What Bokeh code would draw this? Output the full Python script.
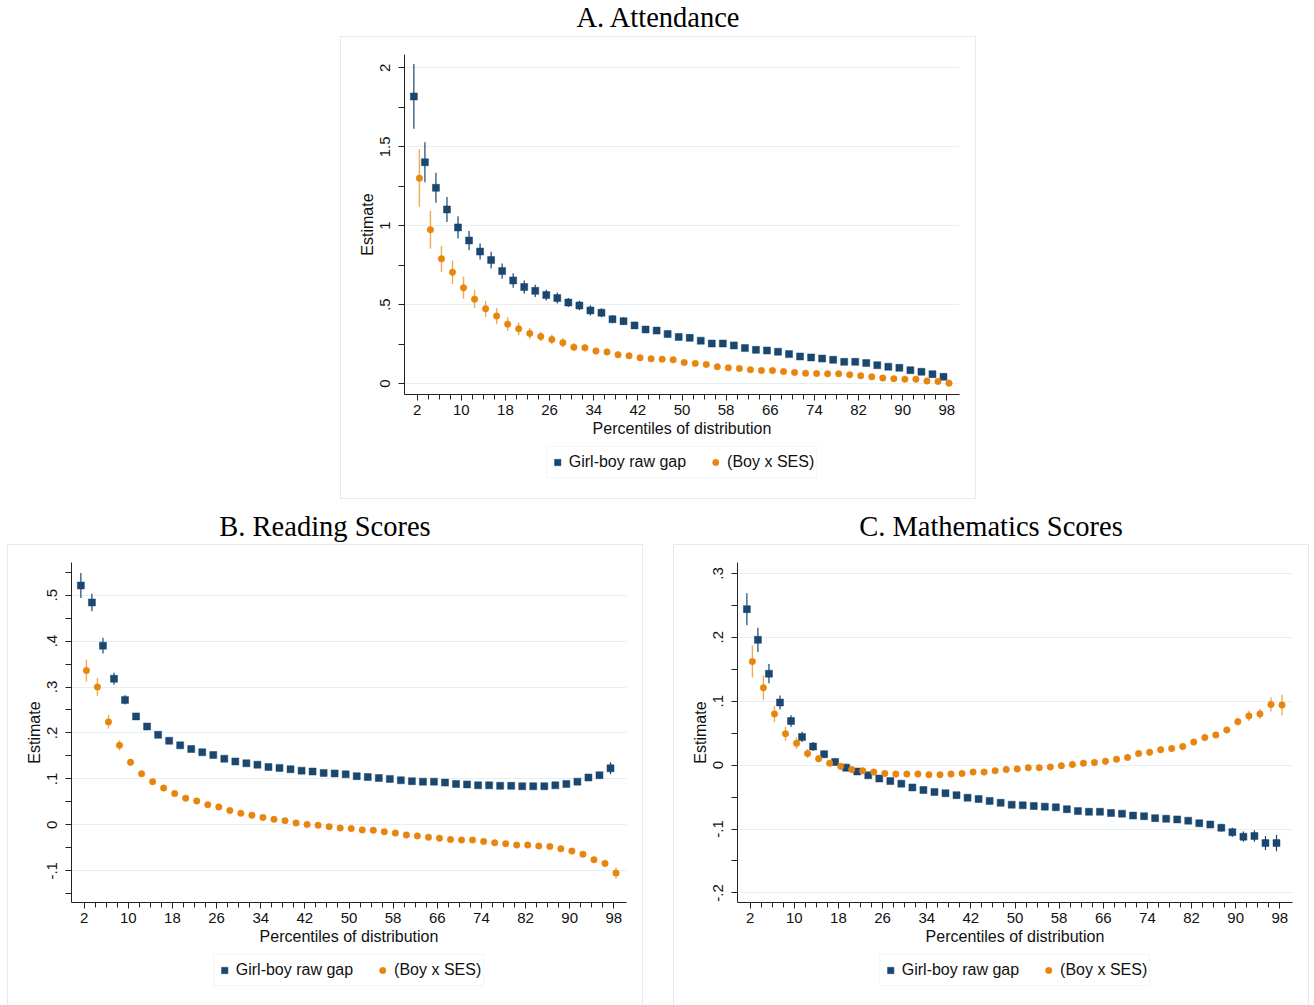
from bokeh.plotting import figure
from bokeh.layouts import column, row
from bokeh.models import (ColumnDataSource, FixedTicker, CustomJSTickFormatter,
                          Legend, LegendItem, Range1d, Div, Spacer)
from bokeh.embed import file_html
from bokeh.resources import INLINE

# percentiles of the distribution (x) and labelled ticks
percentiles = list(range(2, 99, 2))
x_labels = [2, 10, 18, 26, 34, 42, 50, 58, 66, 74, 82, 90, 98]

# A. Attendance
att_gap = [1.819, 1.402, 1.240, 1.103, 0.989, 0.906, 0.836, 0.782, 0.712, 0.653,
           0.611, 0.587, 0.560, 0.541, 0.513, 0.494, 0.463, 0.448, 0.407, 0.395,
           0.368, 0.342, 0.335, 0.313, 0.295, 0.289, 0.271, 0.253, 0.253, 0.241,
           0.224, 0.213, 0.209, 0.201, 0.186, 0.171, 0.165, 0.158, 0.150, 0.137,
           0.137, 0.129, 0.116, 0.106, 0.099, 0.084, 0.074, 0.059, 0.042]
att_gap_ci = [0.205, 0.127, 0.095, 0.079, 0.071, 0.061, 0.051, 0.053, 0.049, 0.046,
              0.042, 0.039, 0.034, 0.035, 0.028, 0.030, 0.032, 0.028, 0.025, 0.024,
              0.023, 0.022, 0.022, 0.021, 0.020, 0.020, 0.019, 0.019, 0.018, 0.018,
              0.017, 0.017, 0.017, 0.016, 0.016, 0.016, 0.015, 0.015, 0.015, 0.015,
              0.014, 0.014, 0.014, 0.014, 0.014, 0.014, 0.014, 0.013, 0.013]
att_ses = [1.301, 0.974, 0.790, 0.705, 0.606, 0.534, 0.473, 0.427, 0.376, 0.346,
           0.317, 0.298, 0.279, 0.258, 0.230, 0.226, 0.205, 0.200, 0.182, 0.175,
           0.163, 0.156, 0.154, 0.150, 0.133, 0.127, 0.120, 0.106, 0.099, 0.095,
           0.087, 0.082, 0.082, 0.076, 0.070, 0.065, 0.063, 0.061, 0.061, 0.055,
           0.049, 0.042, 0.034, 0.030, 0.027, 0.027, 0.015, 0.013, 0.002]
att_ses_ci = [0.183, 0.120, 0.083, 0.075, 0.070, 0.058, 0.051, 0.052, 0.043, 0.040,
              0.035, 0.030, 0.030, 0.028, 0.025, 0.024, 0.022, 0.021, 0.020, 0.019,
              0.018, 0.018, 0.017, 0.017, 0.016, 0.016, 0.015, 0.015, 0.015, 0.014,
              0.014, 0.014, 0.013, 0.013, 0.013, 0.013, 0.012, 0.012, 0.012, 0.012,
              0.012, 0.012, 0.012, 0.012, 0.012, 0.012, 0.012, 0.012, 0.013]
att_yticks = [0, 0.5, 1, 1.5, 2]
att_yminor = [0.25, 0.75, 1.25, 1.75]

# B. Reading Scores
read_gap = [0.521, 0.484, 0.390, 0.318, 0.272, 0.236, 0.214, 0.196, 0.183, 0.173,
            0.165, 0.158, 0.152, 0.144, 0.138, 0.134, 0.131, 0.126, 0.124, 0.121,
            0.118, 0.116, 0.113, 0.112, 0.110, 0.106, 0.104, 0.102, 0.100, 0.097,
            0.095, 0.094, 0.094, 0.092, 0.089, 0.088, 0.086, 0.086, 0.085, 0.085,
            0.084, 0.084, 0.084, 0.086, 0.089, 0.094, 0.103, 0.108, 0.123]
read_gap_ci = [0.027, 0.019, 0.017, 0.013, 0.010, 0.007, 0.006, 0.005, 0.005, 0.005,
               0.004, 0.004, 0.004, 0.004, 0.004, 0.004, 0.004, 0.004, 0.004, 0.004,
               0.004, 0.004, 0.004, 0.004, 0.004, 0.004, 0.004, 0.004, 0.004, 0.004,
               0.004, 0.004, 0.004, 0.004, 0.004, 0.004, 0.004, 0.004, 0.004, 0.004,
               0.004, 0.004, 0.004, 0.005, 0.005, 0.005, 0.006, 0.007, 0.013]
read_ses = [0.336, 0.300, 0.224, 0.173, 0.136, 0.111, 0.094, 0.080, 0.068, 0.058,
            0.052, 0.044, 0.039, 0.031, 0.025, 0.021, 0.016, 0.012, 0.009, 0.004,
            0.001, -0.001, -0.004, -0.007, -0.008, -0.011, -0.012, -0.015, -0.018, -0.022,
            -0.024, -0.027, -0.029, -0.032, -0.033, -0.033, -0.036, -0.039, -0.041, -0.044,
            -0.044, -0.046, -0.047, -0.052, -0.057, -0.064, -0.076, -0.084, -0.105]
read_ses_ci = [0.024, 0.020, 0.015, 0.011, 0.008, 0.006, 0.005, 0.005, 0.004, 0.004,
               0.004, 0.004, 0.004, 0.004, 0.004, 0.004, 0.004, 0.004, 0.004, 0.004,
               0.004, 0.004, 0.004, 0.004, 0.004, 0.004, 0.004, 0.004, 0.004, 0.004,
               0.004, 0.004, 0.004, 0.004, 0.004, 0.004, 0.004, 0.004, 0.004, 0.004,
               0.004, 0.004, 0.004, 0.005, 0.005, 0.005, 0.007, 0.008, 0.012]
read_yticks = [-0.1, 0, 0.1, 0.2, 0.3, 0.4, 0.5]
read_yminor = [-0.15, -0.05, 0.05, 0.15, 0.25, 0.35, 0.45, 0.55]

# C. Mathematics Scores
math_gap = [0.244, 0.196, 0.143, 0.098, 0.069, 0.044, 0.029, 0.017, 0.005, -0.004,
            -0.010, -0.016, -0.021, -0.025, -0.029, -0.035, -0.039, -0.042, -0.044, -0.047,
            -0.051, -0.053, -0.056, -0.059, -0.062, -0.063, -0.064, -0.065, -0.066, -0.069,
            -0.072, -0.073, -0.073, -0.075, -0.076, -0.079, -0.080, -0.083, -0.084, -0.085,
            -0.087, -0.091, -0.093, -0.098, -0.105, -0.112, -0.111, -0.122, -0.122]
math_gap_ci = [0.025, 0.019, 0.015, 0.011, 0.009, 0.008, 0.007, 0.006, 0.006, 0.006,
               0.005, 0.005, 0.005, 0.005, 0.005, 0.005, 0.005, 0.005, 0.005, 0.005,
               0.005, 0.005, 0.005, 0.005, 0.005, 0.005, 0.005, 0.005, 0.005, 0.005,
               0.005, 0.005, 0.005, 0.005, 0.005, 0.005, 0.005, 0.005, 0.005, 0.005,
               0.005, 0.005, 0.005, 0.006, 0.007, 0.008, 0.009, 0.011, 0.013]
math_ses = [0.162, 0.121, 0.080, 0.049, 0.034, 0.018, 0.010, 0.003, -0.002, -0.007,
            -0.009, -0.011, -0.013, -0.014, -0.014, -0.014, -0.015, -0.015, -0.014, -0.013,
            -0.011, -0.011, -0.009, -0.007, -0.006, -0.004, -0.004, -0.003, -0.001, 0.001,
            0.003, 0.004, 0.006, 0.009, 0.012, 0.018, 0.020, 0.024, 0.026, 0.029,
            0.036, 0.043, 0.047, 0.055, 0.068, 0.077, 0.080, 0.095, 0.094]
math_ses_ci = [0.025, 0.019, 0.013, 0.011, 0.009, 0.007, 0.006, 0.005, 0.005, 0.005,
               0.005, 0.005, 0.005, 0.005, 0.005, 0.005, 0.005, 0.005, 0.005, 0.005,
               0.005, 0.005, 0.005, 0.005, 0.005, 0.005, 0.005, 0.005, 0.005, 0.005,
               0.005, 0.005, 0.005, 0.005, 0.005, 0.005, 0.005, 0.005, 0.005, 0.005,
               0.005, 0.005, 0.005, 0.005, 0.006, 0.008, 0.008, 0.011, 0.016]
math_yticks = [-0.2, -0.1, 0, 0.1, 0.2, 0.3]
math_yminor = [-0.15, -0.05, 0.05, 0.15, 0.25]

legend_labels = ["Girl-boy raw gap", "(Boy x SES)"]

NAVY = "#1a476f"
ORANGE = "#e8850e"
ORANGE_CI = "#f0aa55"
BOX = "#e3ebee"
SANS = "Liberation Sans"
SERIF = "Liberation Serif"

PANEL_W = 634
FRAME_H = 340
PLOT_H = 402


def make_source(xs, ys, ci):
    return ColumnDataSource(data=dict(
        x=xs, y=ys,
        lo=[v - c for v, c in zip(ys, ci)],
        hi=[v + c for v, c in zip(ys, ci)]))


def add_markers(p, src_gap, src_ses, sq_size=7, dot_size=6.5):
    r_gap = p.scatter("x", "y", source=src_gap, marker="square", size=sq_size,
                      fill_color=NAVY, line_color=NAVY, line_width=0.5)
    r_ses = p.scatter("x", "y", source=src_ses, marker="circle", size=dot_size,
                      fill_color=ORANGE, line_color=ORANGE, line_width=0.5)
    return r_gap, r_ses


def plot_part(src_gap, src_ses, y_rng, yticks, yminor):
    p = figure(width=PANEL_W, height=PLOT_H, output_backend="svg",
               toolbar_location=None,
               x_range=Range1d(-0.3, 100.3), y_range=Range1d(*y_rng),
               min_border_left=63, min_border_right=16, min_border_top=17,
               min_border_bottom=PLOT_H - 17 - FRAME_H,
               background_fill_color="white", border_fill_color="white",
               outline_line_color=None)
    p.title.visible = False

    p.segment(x0="x", y0="lo", x1="x", y1="hi", source=src_gap,
              line_color=NAVY, line_width=1.2)
    p.segment(x0="x", y0="lo", x1="x", y1="hi", source=src_ses,
              line_color=ORANGE_CI, line_width=1.4)
    add_markers(p, src_gap, src_ses)

    p.xaxis.ticker = FixedTicker(ticks=x_labels, minor_ticks=percentiles)
    p.yaxis.ticker = FixedTicker(ticks=yticks, minor_ticks=yminor)
    p.yaxis.formatter = CustomJSTickFormatter(code="""
        const s = (Math.round(tick * 1000) / 1000).toString();
        return s.replace(/^(-?)0\\./, "$1.");
    """)
    p.yaxis.major_label_orientation = "vertical"
    p.xaxis.axis_label = "Percentiles of distribution"
    p.yaxis.axis_label = "Estimate"

    for ax in (p.xaxis[0], p.yaxis[0]):
        ax.axis_line_color = "#222222"
        ax.major_tick_line_color = "#222222"
        ax.minor_tick_line_color = "#222222"
        ax.major_tick_in = 0
        ax.minor_tick_in = 0
        ax.major_tick_out = 6
        ax.major_label_text_font = SANS
        ax.major_label_text_font_size = "15px"
        ax.major_label_text_color = "#111111"
        ax.axis_label_text_font = SANS
        ax.axis_label_text_font_size = "16px"
        ax.axis_label_text_font_style = "normal"
        ax.axis_label_text_color = "#111111"
    p.xaxis.minor_tick_out = 5
    p.yaxis.minor_tick_out = 6
    p.xaxis.major_label_standoff = 4
    p.xaxis.axis_label_standoff = 2
    p.yaxis.major_label_standoff = 8
    p.yaxis.axis_label_standoff = 2

    p.xgrid.visible = False
    p.ygrid.grid_line_color = "#e6eff2"
    p.ygrid.grid_line_width = 1
    return p


def legend_part(src_gap, src_ses, height):
    # strip under the axis title holding the legend box; its x range lies
    # beyond the data so only the legend is drawn
    lf = figure(width=PANEL_W, height=height, output_backend="svg",
                toolbar_location=None, x_axis_type=None, y_axis_type=None,
                x_range=Range1d(200, 201), y_range=Range1d(0, 1),
                min_border_left=63, min_border_right=16, min_border_top=7,
                min_border_bottom=height - 7 - 32,
                background_fill_color="white", border_fill_color="white",
                outline_line_color=None)
    lf.title.visible = False
    r_gap, r_ses = add_markers(lf, src_gap, src_ses)
    legend = Legend(items=[LegendItem(label=legend_labels[0], renderers=[r_gap]),
                           LegendItem(label=legend_labels[1], renderers=[r_ses])],
                    orientation="horizontal", location="center",
                    margin=0, padding=2, spacing=21,
                    glyph_width=16, glyph_height=26, label_height=26,
                    label_standoff=4, label_text_font=SANS,
                    label_text_font_size="16px", label_text_color="#111111",
                    border_line_color=BOX, background_fill_color="white")
    lf.add_layout(legend)
    return lf


def panel(gap, gap_ci, ses, ses_ci, y_rng, yticks, yminor, height):
    src_gap = make_source([v - 0.6 for v in percentiles], gap, gap_ci)
    src_ses = make_source([v + 0.4 for v in percentiles], ses, ses_ci)
    p = plot_part(src_gap, src_ses, y_rng, yticks, yminor)
    lf = legend_part(src_gap, src_ses, height - PLOT_H)
    return column(p, lf, styles={"outline": "1px solid " + BOX})


def title_div(text, height, pad):
    html = ('<div style="width:%dpx;text-align:center;font-family:\'%s\';'
            'font-size:28.5px;line-height:20px;padding-top:%dpx;color:#000;">%s</div>'
            % (PANEL_W, SERIF, pad, text))
    return Div(text=html, width=PANEL_W, height=height, margin=0)


panel_a = panel(att_gap, att_gap_ci, att_ses, att_ses_ci, (-0.07, 2.085),
                att_yticks, att_yminor, 461)
panel_b = panel(read_gap, read_gap_ci, read_ses, read_ses_ci, (-0.169, 0.571),
                read_yticks, read_yminor, 460)
panel_c = panel(math_gap, math_gap_ci, math_ses, math_ses_ci, (-0.215, 0.317),
                math_yticks, math_yminor, 460)

top = row(Spacer(width=341, height=498),
          column(title_div("A. Attendance", 37, 8), panel_a))
titles = row(Spacer(width=8, height=47), title_div("B. Reading Scores", 47, 19),
             Spacer(width=32, height=47), title_div("C. Mathematics Scores", 47, 19))
bottom = row(Spacer(width=8, height=460), panel_b, Spacer(width=32, height=460), panel_c)
page = column(top, titles, bottom)

open("out.html", "w").write(file_html(page, INLINE))
